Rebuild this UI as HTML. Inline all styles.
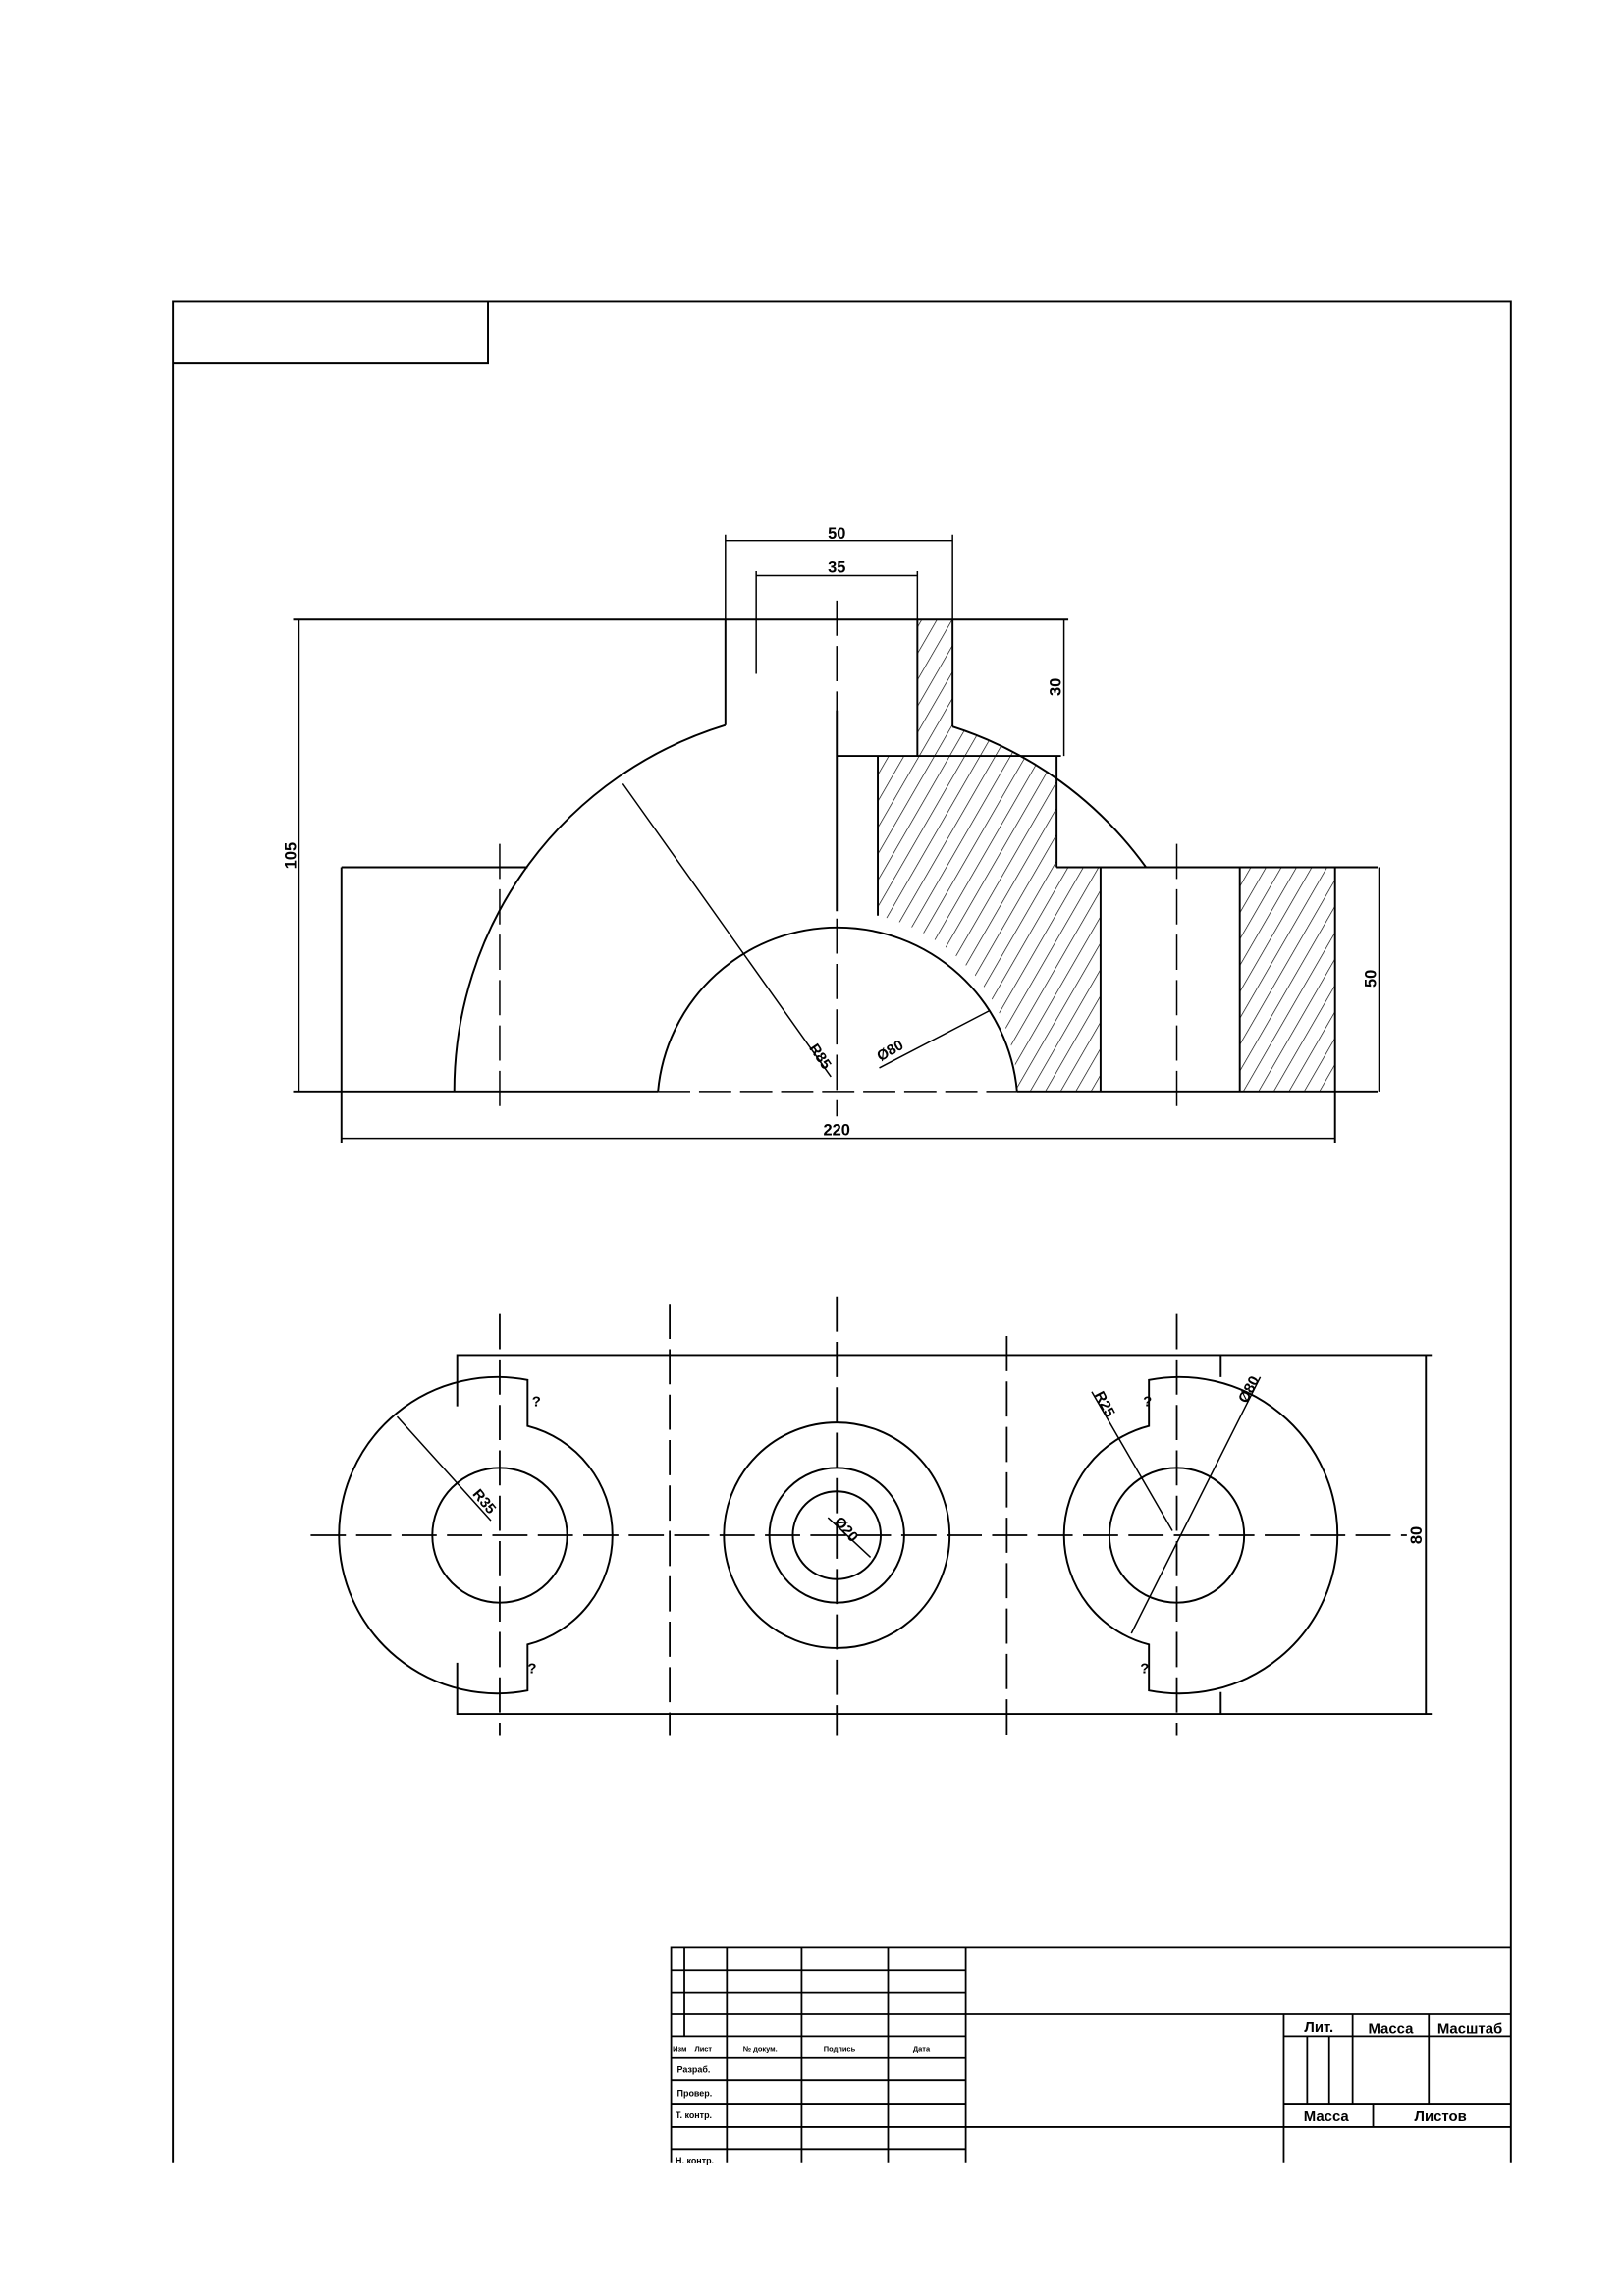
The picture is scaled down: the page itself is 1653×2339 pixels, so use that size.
<!DOCTYPE html>
<html><head><meta charset="utf-8"><style>
html,body{margin:0;padding:0;background:#fff}
svg{display:block}
text{font-family:"Liberation Sans","DejaVu Sans",sans-serif;font-weight:bold;fill:#000}
</style></head><body>
<svg width="1653" height="2339" viewBox="0 0 1107.5 1567.3" preserveAspectRatio="none" xmlns="http://www.w3.org/2000/svg">
<defs>
<pattern id="hatch" patternUnits="userSpaceOnUse" width="9" height="9" patternTransform="rotate(30)">
<line x1="0" y1="0" x2="0" y2="9" stroke="#000" stroke-width="0.9"/>
</pattern>
</defs>
<g fill="none" stroke="#000" stroke-width="1.3">
<path d="M118,1476 V206 H1031 V1476"/>
<path d="M118,248 H333 V206"/>

<g>
<path fill="url(#hatch)" stroke="none" d="M626,423 H650 V496 A261,261 0 0 1 721,531 V592 H751 V745 H694 A123,123 0 0 0 599,625 V516 H626 Z"/>
<rect x="846" y="592" width="65" height="153" fill="url(#hatch)" stroke="none"/>
<path d="M310,745 A261,261 0 0 1 495,495"/>
<path d="M650,496 A261,261 0 0 1 782,592"/>
<path d="M449,745 A123,123 0 0 1 694,745"/>
<path d="M200,423 H729"/>
<path d="M495,423 V495 M650,423 V496 M626,423 V516 M571,516 H724 M571,485 V622"/>
<path d="M599,516 V625 M721,516 V592 M721,592 H940 M751,592 V745 M846,592 V745 M911,592 V780"/>
<path d="M233,592 H360 M233,592 V780"/>
<path d="M200,745 H449 M694,745 H940"/>
<path stroke-width="1" stroke-dasharray="22,6" d="M449,745 H694"/>
<path stroke-width="1" stroke-dasharray="24,7" d="M571,410 V762 M341,576 V762 M803,576 V762"/>
<path stroke-width="1" d="M495,365 V423 M650,365 V423 M495,369 H650 M516,390 V460 M626,390 V423 M516,393 H626 M204,423 V745 M726,423 V516 M941,592 V745 M233,777 H911 M425,535 L567,735 M600,729 L675,690"/>
</g>
<g stroke="none">
<text x="571" y="368" font-size="11" text-anchor="middle">50</text>
<text x="571" y="391" font-size="11" text-anchor="middle">35</text>
<text x="571" y="775" font-size="11" text-anchor="middle">220</text>
<text transform="translate(202,584) rotate(-90)" font-size="11" text-anchor="middle">105</text>
<text transform="translate(724,469) rotate(-90)" font-size="11" text-anchor="middle">30</text>
<text transform="translate(939,668) rotate(-90)" font-size="11" text-anchor="middle">50</text>
<text transform="translate(557,723) rotate(56)" font-size="10" text-anchor="middle">R85</text>
<text transform="translate(609,720) rotate(-30)" font-size="10" text-anchor="middle">Ø80</text>
</g>

<g>
<path d="M312,960 V925 H833 V940 M312,1135 V1170 H833 V1155 M833,925 H977 M833,1170 H977 M973,925 V1170"/>
<path d="M360,942 A108,108 0 1 0 360,1154 V1122.6 A77,77 0 0 0 360,973.4 Z"/>
<circle cx="341" cy="1048" r="46"/>
<path d="M784,942 A108,108 0 1 1 784,1154 V1122.6 A77,77 0 0 1 784,973.4 Z"/>
<circle cx="803" cy="1048" r="46"/>
<circle cx="571" cy="1048" r="77"/>
<circle cx="571" cy="1048" r="46"/>
<circle cx="571" cy="1048" r="30"/>
<path stroke-width="1.2" stroke-dasharray="24,7" d="M212,1048 H960 M341,897 V1185 M457,890 V1185 M571,885 V1185 M687,912 V1185 M803,897 V1185"/>
<path stroke-width="1" d="M271,967 L335,1038 M565,1036 L594,1063 M745,950 L800,1045 M860,940 L772,1115"/>
</g>
<g stroke="none">
<text transform="translate(328,1027) rotate(50)" font-size="10" text-anchor="middle">R35</text>
<text transform="translate(575,1046) rotate(50)" font-size="10" text-anchor="middle">Ø20</text>
<text transform="translate(751,960) rotate(62)" font-size="10" text-anchor="middle">R25</text>
<text transform="translate(855,950) rotate(-62)" font-size="10" text-anchor="middle">Ø80</text>
<text transform="translate(970,1048) rotate(-90)" font-size="11" text-anchor="middle">80</text>
<text x="363" y="960" font-size="10">?</text>
<text x="360" y="1142" font-size="10">?</text>
<text x="780" y="960" font-size="10">?</text>
<text x="778" y="1142" font-size="10">?</text>
</g>

<g stroke-width="1.2">
<path d="M458,1476 V1329 H1031 M467,1329 V1390 M496,1329 V1476 M547,1329 V1476 M606,1329 V1476 M659,1329 V1476"/>
<path d="M458,1345 H659 M458,1360 H659 M458,1375 H1031 M458,1390 H659 M458,1405 H659 M458,1420 H659 M458,1436 H659 M458,1452 H1031 M458,1467 H659"/>
<path d="M876,1375 V1476 M876,1390 H1031 M923,1375 V1436 M975,1375 V1436 M892,1390 V1436 M907,1390 V1436 M876,1436 H1031 M937,1436 V1452"/>
</g>
<g stroke="none">
<text x="459" y="1400" font-size="5">Изм</text>
<text x="474" y="1400" font-size="5">Лист</text>
<text x="507" y="1400" font-size="5">№ докум.</text>
<text x="562" y="1400" font-size="5">Подпись</text>
<text x="623" y="1400" font-size="5">Дата</text>
<text x="462" y="1415" font-size="6">Разраб.</text>
<text x="462" y="1431" font-size="6">Провер.</text>
<text x="461" y="1446" font-size="6">Т. контр.</text>
<text x="461" y="1477" font-size="6">Н. контр.</text>
<text x="900" y="1387" font-size="10" text-anchor="middle">Лит.</text>
<text x="949" y="1388" font-size="10" text-anchor="middle">Масса</text>
<text x="1003" y="1388" font-size="10" text-anchor="middle">Масштаб</text>
<text x="905" y="1448" font-size="10" text-anchor="middle">Масса</text>
<text x="983" y="1448" font-size="10" text-anchor="middle">Листов</text>
</g>
</g>
</svg>
</body></html>
